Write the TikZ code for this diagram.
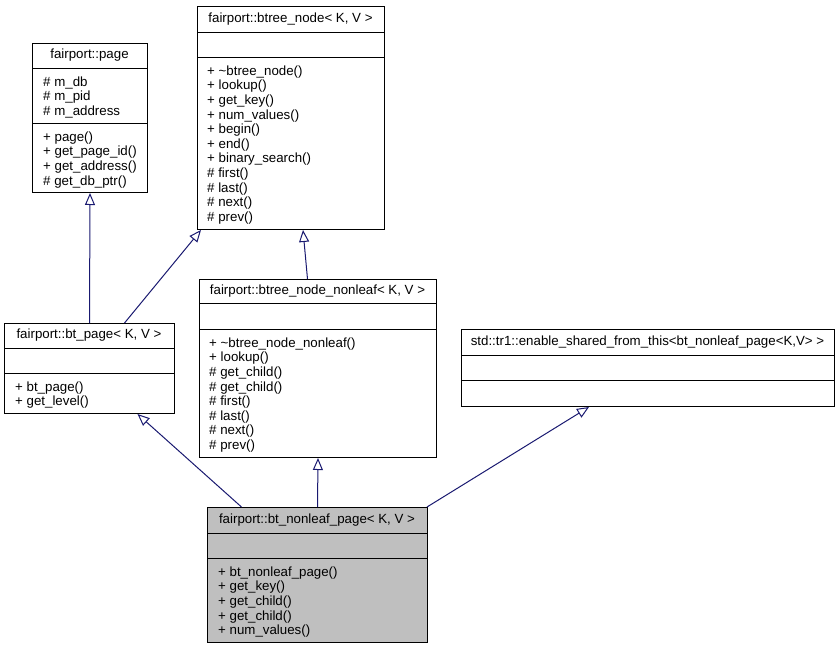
\documentclass[tikz,border=0pt]{standalone}
\usepackage{fontspec}
\setmainfont{Liberation Sans}
\usetikzlibrary{arrows.meta}
\definecolor{edgeblue}{HTML}{191970}
\definecolor{nodegray}{HTML}{BFBFBF}
\begin{document}
\begin{tikzpicture}[x=1pt,y=-1pt,
  every node/.style={font=\fontsize{13.3}{14.6}\selectfont},
  classbox/.style={draw=black, line width=1pt, inner sep=0pt, anchor=north west},
  title/.style={inner sep=0pt},
  members/.style={inner sep=0pt, anchor=north west, align=left},
  inherit/.style={draw=edgeblue, line width=1pt, -{Triangle[open, length=12pt, width=10pt]}}]
\useasboundingbox (0,0) rectangle (840,648);
\node [classbox, minimum width=115pt, minimum height=149pt] (page) at (32,43) {};
\node [classbox, minimum width=187pt, minimum height=223pt] (btree) at (197,6) {};
\node [classbox, minimum width=170pt, minimum height=90pt] (btpage) at (4,323) {};
\node [classbox, minimum width=237pt, minimum height=178pt] (nonleaf) at (199,279) {};
\node [classbox, minimum width=373pt, minimum height=77pt] (shared) at (461,329) {};
\node [classbox, fill=nodegray, minimum width=220pt, minimum height=135pt] (nlpage) at (207,507) {};
\draw [line width=1pt] (page.west |- 0,68) -- (page.east |- 0,68);
\draw [line width=1pt] (page.west |- 0,123) -- (page.east |- 0,123);
\draw [line width=1pt] (btree.west |- 0,32) -- (btree.east |- 0,32);
\draw [line width=1pt] (btree.west |- 0,57) -- (btree.east |- 0,57);
\draw [line width=1pt] (btpage.west |- 0,348) -- (btpage.east |- 0,348);
\draw [line width=1pt] (btpage.west |- 0,373) -- (btpage.east |- 0,373);
\draw [line width=1pt] (nonleaf.west |- 0,303) -- (nonleaf.east |- 0,303);
\draw [line width=1pt] (nonleaf.west |- 0,329) -- (nonleaf.east |- 0,329);
\draw [line width=1pt] (shared.west |- 0,355) -- (shared.east |- 0,355);
\draw [line width=1pt] (shared.west |- 0,380) -- (shared.east |- 0,380);
\draw [line width=1pt] (nlpage.west |- 0,533) -- (nlpage.east |- 0,533);
\draw [line width=1pt] (nlpage.west |- 0,558) -- (nlpage.east |- 0,558);
\node [title] (page-name) at (89.5,55.5) {fairport::page};
\node [title] (btree-name) at (290.5,19) {fairport::btree\_node< K, V >};
\node [title] (btpage-name) at (89,335.5) {fairport::bt\_page< K, V >};
\node [title] (nonleaf-name) at (317.5,291) {fairport::btree\_node\_nonleaf< K, V >};
\node [title] (shared-name) at (647.5,342) {std::tr1::enable\_shared\_from\_this<bt\_nonleaf\_page<K,V> >};
\node [title] (nlpage-name) at (317,520) {fairport::bt\_nonleaf\_page< K, V >};
\node [members] (page-attrs) at (43,76.5) {\# m\_db\\\# m\_pid\\\# m\_address};
\node [members] (page-ops) at (43,131.5) {+ page()\\+ get\_page\_id()\\+ get\_address()\\\# get\_db\_ptr()};
\node [members] (btree-ops) at (207,65.5) {+ \textasciitilde btree\_node()\\+ lookup()\\+ get\_key()\\+ num\_values()\\+ begin()\\+ end()\\+ binary\_search()\\\# first()\\\# last()\\\# next()\\\# prev()};
\node [members] (btpage-ops) at (15,381.5) {+ bt\_page()\\+ get\_level()};
\node [members] (nonleaf-ops) at (209,337.5) {+ \textasciitilde btree\_node\_nonleaf()\\+ lookup()\\\# get\_child()\\\# get\_child()\\\# first()\\\# last()\\\# next()\\\# prev()};
\node [members] (nlpage-ops) at (218,566.5) {+ bt\_nonleaf\_page()\\+ get\_key()\\+ get\_child()\\+ get\_child()\\+ num\_values()};
\draw [inherit] (btpage.north) -- (page.south);
\draw [inherit] ([xshift=35pt]btpage.north) -- ([xshift=4pt]btree.south west);
\draw [inherit] ([xshift=-10.5pt]nonleaf.north) -- ([xshift=12pt]btree.south);
\draw [inherit] ([xshift=-76pt]nlpage.north) -- ([xshift=48pt]btpage.south);
\draw [inherit] (nlpage.north) -- (nonleaf.south);
\draw [inherit] ([xshift=-1pt]nlpage.north east) -- ([xshift=-59pt]shared.south);
\end{tikzpicture}
\end{document}
